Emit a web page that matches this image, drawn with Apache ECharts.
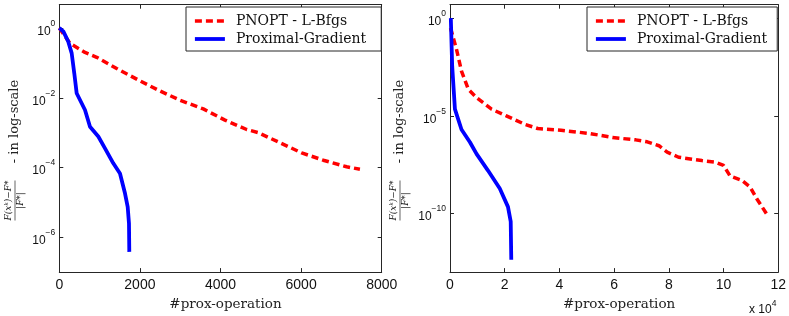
<!DOCTYPE html>
<html>
<head>
<meta charset="utf-8">
<script src="https://cdn.jsdelivr.net/npm/echarts@6/dist/echarts.min.js"></script>
<style>html,body{margin:0;padding:0;background:#fff}#c{width:789px;height:316px}</style>
</head>
<body>
<div id="c"></div>
<script>
// ---- data (relative error |F(x^k)-F*|/|F*| vs number of prox operations) ----
const seriesNames = ['PNOPT - L-Bfgs', 'Proximal-Gradient'];

// left panel
const leftPnoptX = [0, 265, 638, 928, 1424, 1960, 2456, 2995, 3573, 4111, 4649, 4937, 5476, 6014, 6550, 7130, 7460];
const leftPnoptY = [1, 0.363, 0.2, 0.145, 0.0692, 0.0324, 0.0166, 0.00851, 0.00479, 0.00229, 0.00123, 0.001, 5.13e-4, 2.63e-4, 1.62e-4, 1.05e-4, 8.9e-5];
const leftProxX = [0, 100, 223, 307, 372, 431, 638, 762, 968, 1134, 1340, 1506, 1630, 1697, 1729, 1737];
const leftProxY = [1, 0.8, 0.407, 0.191, 0.0501, 0.0135, 4.47e-3, 1.48e-3, 7.76e-4, 3.55e-4, 1.32e-4, 6.76e-5, 1.82e-5, 7.41e-6, 2.51e-6, 3.8e-7];

// right panel
const rightPnoptX = [200, 2400, 4200, 6700, 9700, 15200, 20600, 27300, 32100, 40600, 50900, 59400, 67900, 72100, 76400, 79400, 83600, 92100, 97000, 100000, 102400, 106700, 109700, 112100, 116400];
const rightPnoptY = [0.316, 0.0245, 1.95e-3, 2.29e-4, 8.51e-5, 2.19e-5, 1e-5, 3.72e-6, 2.24e-6, 1.82e-6, 1.26e-6, 7.76e-7, 5.89e-7, 4.68e-7, 2.95e-7, 1.38e-7, 7.59e-8, 5.13e-8, 4.27e-8, 2.88e-8, 8.32e-9, 5.01e-9, 2.29e-9, 5.89e-10, 6.92e-11];
const rightProxX = [300, 800, 1800, 4200, 7300, 9700, 13900, 18200, 21200, 22200, 22400];
const rightProxY = [1, 3.47e-3, 2.19e-5, 2.0e-6, 4.47e-7, 1.12e-7, 1.58e-8, 1.91e-9, 2.19e-10, 3.8e-11, 4.27e-13];

// ticks
const leftXTicks = [0, 2000, 4000, 6000, 8000];
const rightXTicks = [0, 2, 4, 6, 8, 10, 12]; // x 10^4
const leftYExp = [0, -2, -4, -6];
const rightYExp = [0, -5, -10];

// ---- build ----
const pairs = (xs, ys) => xs.map((x, i) => [x, Math.log10(ys[i])]);
const AX = '#262626';
const tickFont = 'Liberation Sans, Arial, sans-serif';
const serif = 'DejaVu Serif, serif';

function supLabel(v) {
  const e = Math.round(v);
  return '{b|10}{s|' + String(e).replace('-', '\u2212') + '}';
}
const supRich = {
  b: { fontSize: 12, fontFamily: tickFont, color: '#111', padding: [7, 0, 0, 0] },
  s: { fontSize: 8.5, fontFamily: tickFont, color: '#111', padding: [0, 0, 9, 0] }
};

function xAx(grid, max, interval, ticks, show, pos, fmt) {
  return {
    type: 'value', gridIndex: grid, min: 0, max: max, interval: interval, position: pos,
    axisLine: { show: true, onZero: false, lineStyle: { color: AX, width: 1 } },
    axisTick: { show: true, inside: true, length: 4, lineStyle: { color: AX } },
    axisLabel: { show: show, fontSize: 14, fontFamily: tickFont, color: '#111', margin: 6,
      formatter: fmt },
    splitLine: { show: false }
  };
}
function yAx(grid, min, max, exps, show, pos) {
  return {
    type: 'value', gridIndex: grid, min: min, max: max, position: pos,
    axisLine: { show: true, onZero: false, lineStyle: { color: AX, width: 1 } },
    axisTick: { show: true, inside: true, length: 4, lineStyle: { color: AX }, customValues: exps },
    axisLabel: { show: show, margin: 4, customValues: exps, formatter: supLabel, rich: supRich },
    splitLine: { show: false }
  };
}

const redStyle = { color: '#ff0000', width: 3.5, type: [7, 4], cap: 'butt' };
const blueStyle = { color: '#0000ff', width: 3.8, type: 'solid' };

function legend(left, padRight) {
  return {
    left: left, top: 7, orient: 'vertical', itemWidth: 30, itemHeight: 14, itemGap: 4,
    padding: [7, padRight, 5, 7], borderColor: AX, borderWidth: 1, backgroundColor: '#fff',
    selectedMode: false,
    data: [
      { name: seriesNames[0], lineStyle: { width: 3.5, type: [7, 4], color: '#ff0000' } },
      { name: seriesNames[1], lineStyle: { width: 3.8, type: 'solid', color: '#0000ff' } }
    ],
    itemStyle: { opacity: 0 },
    textStyle: { fontFamily: serif, fontSize: 14, color: '#111', padding: [0, 0, 0, 6] }
  };
}

function yLabel(cx, cy) {
  return {
    type: 'group', x: cx, y: cy, rotation: Math.PI / 2,
    children: [
      { type: 'text', x: -50, y: -1.5, style: { text: 'F(x\u1D4F)\u2212F*', fontFamily: serif, fontStyle: 'italic', fontSize: 9, fill: '#222', align: 'center', verticalAlign: 'bottom' } },
      { type: 'line', shape: { x1: -70, y1: 0, x2: -30, y2: 0 }, style: { stroke: '#222', lineWidth: 0.7 } },
      { type: 'text', x: -50, y: 1.5, style: { text: '|F*|', fontFamily: serif, fontStyle: 'italic', fontSize: 9, fill: '#222', align: 'center', verticalAlign: 'top' } },
      { type: 'text', x: 29, y: 0, style: { text: '- in log-scale', fontFamily: serif, fontSize: 13, fill: '#222', align: 'center', verticalAlign: 'middle' } }
    ]
  };
}

const option = {
  animation: false,
  backgroundColor: '#fff',
  grid: [
    { left: 59.3, top: 4.7, width: 322.4, height: 269.3 },
    { left: 450, top: 4.7, width: 330, height: 269.3 }
  ],
  xAxis: [
    Object.assign(xAx(0, 8000, 2000, leftXTicks, true, 'bottom', v => String(v)), {
      name: '#prox-operation', nameLocation: 'middle', nameGap: 22,
      nameTextStyle: { fontFamily: serif, fontSize: 13.5, color: '#222', padding: [0, 0, 0, 10] } }),
    xAx(0, 8000, 2000, leftXTicks, false, 'top'),
    Object.assign(xAx(1, 120000, 20000, rightXTicks, true, 'bottom', v => String(v / 1e4)), {
      name: '#prox-operation', nameLocation: 'middle', nameGap: 22,
      nameTextStyle: { fontFamily: serif, fontSize: 13.5, color: '#222', padding: [0, 0, 0, 10] } }),
    xAx(1, 120000, 20000, rightXTicks, false, 'top')
  ],
  yAxis: [
    yAx(0, -7, 0.67, leftYExp, true, 'left'),
    yAx(0, -7, 0.67, leftYExp, false, 'right'),
    yAx(1, -13, 0.69, rightYExp, true, 'left'),
    yAx(1, -13, 0.69, rightYExp, false, 'right')
  ],
  legend: [legend(186, 15), legend(587, 10)],
  series: [
    { name: seriesNames[0], type: 'line', xAxisIndex: 0, yAxisIndex: 0, data: pairs(leftPnoptX, leftPnoptY), showSymbol: false, symbol: 'none', lineStyle: redStyle, itemStyle: { color: '#ff0000' }, z: 3 },
    { name: seriesNames[1], type: 'line', xAxisIndex: 0, yAxisIndex: 0, data: pairs(leftProxX, leftProxY), showSymbol: false, symbol: 'none', lineStyle: blueStyle, itemStyle: { color: '#0000ff' }, z: 4 },
    { name: seriesNames[0], type: 'line', xAxisIndex: 2, yAxisIndex: 2, data: pairs(rightPnoptX, rightPnoptY), showSymbol: false, symbol: 'none', lineStyle: redStyle, itemStyle: { color: '#ff0000' }, z: 3 },
    { name: seriesNames[1], type: 'line', xAxisIndex: 2, yAxisIndex: 2, data: pairs(rightProxX, rightProxY), showSymbol: false, symbol: 'none', lineStyle: blueStyle, itemStyle: { color: '#0000ff' }, z: 4 }
  ],
  graphic: [
    yLabel(15, 150.5),
    yLabel(400, 150.5),
    { type: 'text', left: 749, top: 299, style: { text: '{a|x 10}{b|4}', rich: {
      a: { fontFamily: tickFont, fontSize: 12, fill: '#111', padding: [6, 0, 0, 0] },
      b: { fontFamily: tickFont, fontSize: 8.5, fill: '#111', padding: [0, 0, 6, 0] } } } }
  ]
};

const chart = echarts.init(document.getElementById('c'), null, { renderer: 'canvas' });
chart.setOption(option);
</script>
</body>
</html>
